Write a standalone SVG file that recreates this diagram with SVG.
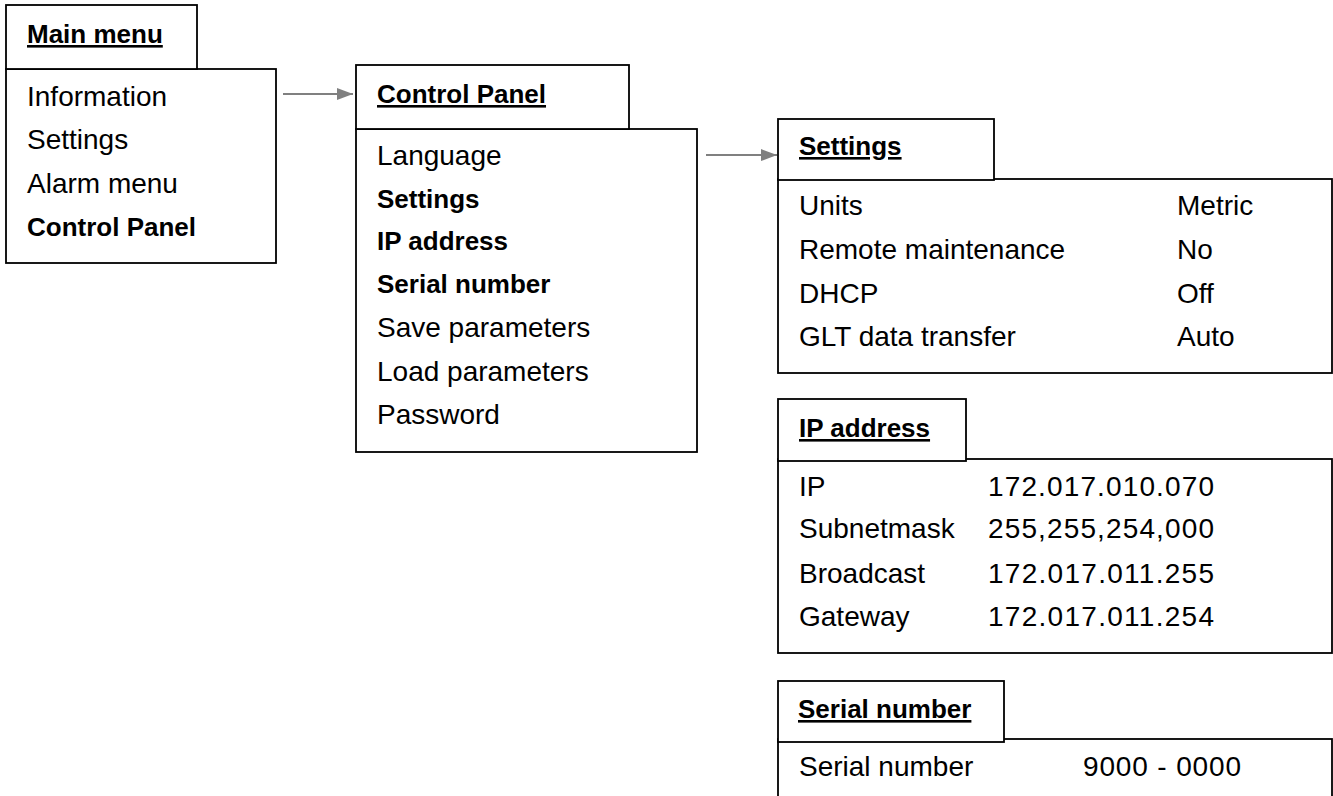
<svg xmlns="http://www.w3.org/2000/svg" width="1333" height="796" viewBox="0 0 1333 796">
<style>
.box{fill:#fff;stroke:#000;stroke-width:1.8}
.t{font-family:"Liberation Sans",Arial,sans-serif;font-size:28px;fill:#000}
.b{font-family:"Liberation Sans",Arial,sans-serif;font-size:26px;font-weight:bold;fill:#000}
.h{font-family:"Liberation Sans",Arial,sans-serif;font-size:26px;font-weight:bold;fill:#000;text-decoration:underline}
.conn{stroke:#808080;stroke-width:2;fill:none}
</style>
<defs>
<marker id="arr" markerWidth="16" markerHeight="12" refX="16" refY="6" orient="auto" markerUnits="userSpaceOnUse">
<path d="M0,0 L16,6 L0,12 Z" fill="#808080"/>
</marker>
</defs>
<rect width="1333" height="796" fill="#fff"/>
<g id="connectors">
<line class="conn" x1="283" y1="94" x2="353" y2="94" marker-end="url(#arr)"/>
<line class="conn" x1="706" y1="155" x2="777" y2="155" marker-end="url(#arr)"/>
</g>
<g id="main-menu">
<rect class="box" x="6" y="69" width="270" height="194"/>
<rect class="box" x="6" y="5" width="191" height="64"/>
<text class="h" x="27" y="43">Main menu</text>
<text class="t" x="27" y="106">Information</text>
<text class="t" x="27" y="149">Settings</text>
<text class="t" x="27" y="193">Alarm menu</text>
<text class="b" x="27" y="236">Control Panel</text>
</g>
<g id="control-panel">
<rect class="box" x="356" y="129" width="341" height="323"/>
<rect class="box" x="356" y="65" width="273" height="64"/>
<text class="h" x="377" y="103">Control Panel</text>
<text class="t" x="377" y="165">Language</text>
<text class="b" x="377" y="208">Settings</text>
<text class="b" x="377" y="250">IP address</text>
<text class="b" x="377" y="293">Serial number</text>
<text class="t" x="377" y="337">Save parameters</text>
<text class="t" x="377" y="381">Load parameters</text>
<text class="t" x="377" y="424">Password</text>
</g>
<g id="settings">
<rect class="box" x="778" y="179" width="554" height="194"/>
<rect class="box" x="778" y="119" width="216" height="61"/>
<text class="h" x="799" y="155">Settings</text>
<text class="t" x="799" y="215">Units</text>
<text class="t" x="799" y="259">Remote maintenance</text>
<text class="t" x="799" y="303">DHCP</text>
<text class="t" x="799" y="346">GLT data transfer</text>
<text class="t" x="1177" y="215">Metric</text>
<text class="t" x="1177" y="259">No</text>
<text class="t" x="1177" y="303">Off</text>
<text class="t" x="1177" y="346">Auto</text>
</g>
<g id="ip-address">
<rect class="box" x="778" y="459" width="554" height="194"/>
<rect class="box" x="778" y="399" width="188" height="62"/>
<text class="h" x="799" y="437">IP address</text>
<text class="t" x="799" y="496">IP</text>
<text class="t" x="799" y="538">Subnetmask</text>
<text class="t" x="799" y="583">Broadcast</text>
<text class="t" x="799" y="626">Gateway</text>
<text class="t" x="988" y="496" textLength="226" lengthAdjust="spacing">172.017.010.070</text>
<text class="t" x="988" y="538" textLength="226" lengthAdjust="spacing">255,255,254,000</text>
<text class="t" x="988" y="583" textLength="226" lengthAdjust="spacing">172.017.011.255</text>
<text class="t" x="988" y="626" textLength="226" lengthAdjust="spacing">172.017.011.254</text>
</g>
<g id="serial-number">
<rect class="box" x="778" y="739" width="554" height="80"/>
<rect class="box" x="778" y="681" width="226" height="61"/>
<text class="h" x="798" y="718">Serial number</text>
<text class="t" x="799" y="776">Serial number</text>
<text class="t" x="1083" y="776" textLength="158" lengthAdjust="spacing">9000 - 0000</text>
</g>
</svg>
